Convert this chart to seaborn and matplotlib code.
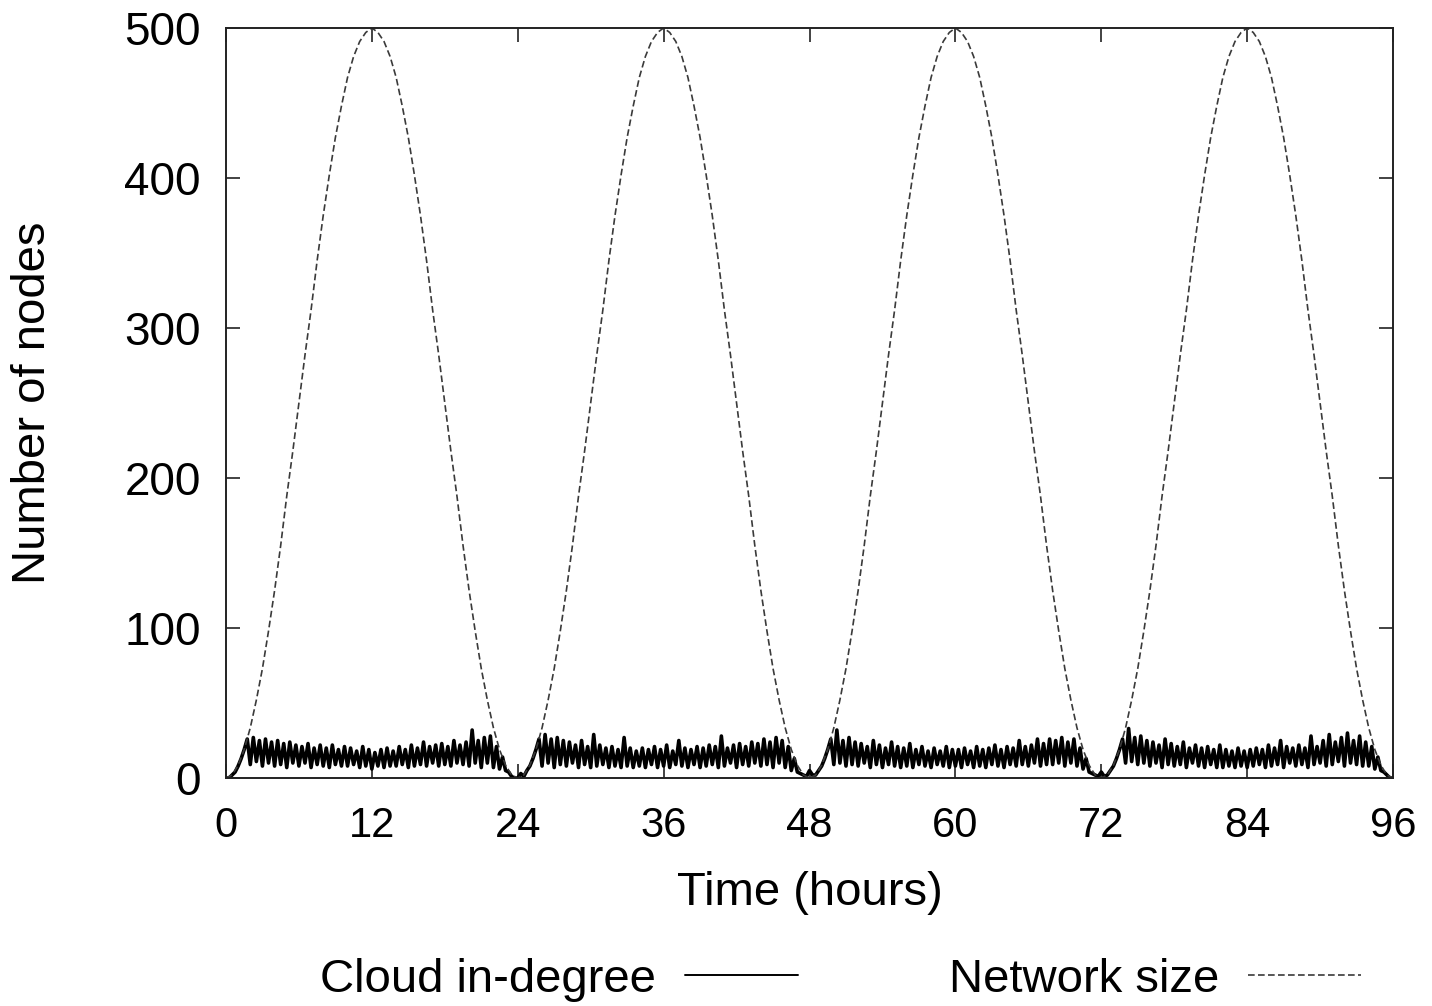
import numpy as np
import matplotlib
matplotlib.use("Agg")
import matplotlib.pyplot as plt
from matplotlib import font_manager
import seaborn as sns

network_size = [
    0, 2, 8.5, 19, 33.5, 52, 73, 98, 125, 155, 188, 218, 250, 282, 312, 345, 375, 402, 427, 448, 467, 481, 491, 497,
    500, 497, 491, 481, 467, 448, 427, 402, 375, 345, 312, 282, 250, 218, 188, 155, 125, 98, 73, 52, 33.5, 19, 8.5, 2,
    0, 2, 8.5, 19, 33.5, 52, 73, 98, 125, 155, 188, 218, 250, 282, 312, 345, 375, 402, 427, 448, 467, 481, 491, 497,
    500, 497, 491, 481, 467, 448, 427, 402, 375, 345, 312, 282, 250, 218, 188, 155, 125, 98, 73, 52, 33.5, 19, 8.5, 2,
    0, 2, 8.5, 19, 33.5, 52, 73, 98, 125, 155, 188, 218, 250, 282, 312, 345, 375, 402, 427, 448, 467, 481, 491, 497,
    500, 497, 491, 481, 467, 448, 427, 402, 375, 345, 312, 282, 250, 218, 188, 155, 125, 98, 73, 52, 33.5, 19, 8.5, 2,
    0, 2, 8.5, 19, 33.5, 52, 73, 98, 125, 155, 188, 218, 250, 282, 312, 345, 375, 402, 427, 448, 467, 481, 491, 497,
    500, 497, 491, 481, 467, 448, 427, 402, 375, 345, 312, 282, 250, 218, 188, 155, 125, 98, 73, 52, 33.5, 19, 8.5, 2,
    0,
]

cloud_indegree = [
    # day 1
    0, 0, 2, 4, 8, 13, 19, 26,
    9, 27, 11, 25, 8, 26, 10, 24,
    8, 25, 9, 23, 7, 24, 10, 22,
    8, 21, 10, 23, 7, 20, 9, 22,
    8, 20, 7, 22, 9, 19, 8, 21,
    8, 20, 9, 18, 7, 21, 8, 19,
    6, 17, 8, 19, 7, 20, 8, 18,
    8, 21, 9, 19, 7, 22, 8, 20,
    9, 24, 8, 21, 10, 22, 8, 23,
    9, 21, 8, 25, 10, 22, 9, 24,
    8, 32, 10, 25, 7, 27, 10, 28,
    7, 21, 6, 14, 5, 4, 1, 0,
    # day 2
    0, 3, 1, 5, 8, 13, 19, 26,
    8, 29, 10, 26, 7, 27, 9, 25,
    8, 24, 10, 22, 7, 25, 9, 21,
    7, 29, 8, 22, 9, 20, 7, 21,
    8, 19, 7, 27, 8, 20, 7, 18,
    8, 20, 7, 19, 9, 21, 7, 19,
    8, 22, 7, 18, 9, 25, 8, 20,
    7, 19, 9, 21, 7, 20, 8, 22,
    9, 21, 7, 28, 8, 20, 10, 22,
    7, 23, 9, 21, 8, 24, 10, 23,
    8, 26, 9, 24, 7, 27, 10, 25,
    7, 21, 5, 13, 4, 3, 2, 1,
    # day 3
    5, 2, 2, 5, 8, 13, 19, 26,
    9, 32, 10, 25, 8, 27, 9, 24,
    8, 23, 10, 21, 7, 25, 9, 22,
    7, 20, 9, 24, 8, 21, 7, 20,
    8, 23, 7, 19, 9, 21, 8, 18,
    7, 20, 9, 18, 8, 21, 7, 19,
    8, 19, 7, 20, 9, 18, 7, 21,
    8, 19, 7, 20, 9, 22, 8, 19,
    7, 21, 9, 20, 8, 25, 9, 21,
    8, 22, 10, 26, 8, 23, 9, 26,
    9, 25, 10, 27, 8, 24, 10, 26,
    8, 20, 6, 13, 4, 3, 2, 1,
    # day 4
    4, 1, 2, 5, 8, 13, 19, 26,
    10, 33, 11, 27, 9, 28, 10, 25,
    8, 24, 10, 22, 7, 26, 9, 23,
    8, 21, 9, 24, 7, 20, 10, 22,
    8, 20, 7, 21, 9, 19, 7, 22,
    7, 19, 8, 18, 7, 20, 8, 18,
    7, 19, 8, 20, 9, 19, 7, 22,
    8, 20, 9, 25, 7, 21, 10, 20,
    8, 22, 9, 20, 7, 28, 9, 21,
    10, 25, 8, 29, 9, 24, 11, 27,
    8, 30, 10, 25, 9, 28, 8, 24,
    8, 21, 6, 14, 5, 4, 2, 0,
    0,
]

x_ticks = [0, 12, 24, 36, 48, 60, 72, 84, 96]
y_ticks = [0, 100, 200, 300, 400, 500]

net_hours = np.arange(0, 96.5, 0.5)
cloud_hours = np.arange(0, 96.25, 0.25)


def _has_font(name):
    try:
        font_manager.findfont(name, fallback_to_default=False)
        return True
    except ValueError:
        return False


sns.set_theme(style="white")
plt.rcParams['font.family'] = ['Liberation Sans', 'DejaVu Sans']
plt.rcParams['text.color'] = 'black'
plt.rcParams['axes.labelcolor'] = 'black'
plt.rcParams['xtick.color'] = 'black'
plt.rcParams['ytick.color'] = 'black'

if _has_font('Liberation Sans Narrow'):
    narrow = 'Liberation Sans Narrow'
    label_size, xtick_size = 40, 31
else:
    narrow = 'Liberation Sans'
    label_size, xtick_size = 34, 30

fig = plt.figure(figsize=(14.32, 10.06), dpi=100)
ax = fig.add_axes([0.1578, 0.2266, 0.815, 0.7456])

sns.lineplot(x=cloud_hours, y=cloud_indegree, ax=ax, color='black', linewidth=2.6,
             estimator=None, label='Cloud in-degree', legend=False)
sns.lineplot(x=net_hours, y=network_size, ax=ax, color='#3a3a3a', linewidth=1.2,
             linestyle=(0, (4, 2)), estimator=None, label='Network size', legend=False)

ax.set_xlim(0, 96)
ax.set_ylim(0, 500)
ax.set_xticks(x_ticks)
ax.set_yticks(y_ticks)
ax.set_xticklabels([str(t) for t in x_ticks], fontsize=xtick_size, family=narrow)
ax.set_yticklabels([str(t) for t in y_ticks], fontsize=33, family='Liberation Sans')
ax.tick_params(direction='in', length=10, width=1.2, color='#222222',
               top=True, right=True, bottom=True, left=True)
ax.tick_params(axis='x', pad=20)
ax.tick_params(axis='y', pad=18)
for s in ax.spines.values():
    s.set_color('#222222')
    s.set_linewidth(1.4)

ax.set_xlabel('Time (hours)', fontsize=label_size, family=narrow)
ax.set_ylabel('Number of nodes', fontsize=label_size, family=narrow)
ax.xaxis.set_label_coords(0.5, -0.153)
ax.yaxis.set_label_coords(-0.1654, 0.501)
ax.xaxis.label.set_va('center')
ax.yaxis.label.set_va('center')

leg_handles = ax.get_lines()[:2]
leg = fig.legend(leg_handles, ['Cloud in-degree', 'Network size'], loc='center',
                 bbox_to_anchor=(0.587, 0.026), ncol=2, frameon=False, markerfirst=False,
                 handlelength=2.4, handletextpad=0.6, columnspacing=3.2,
                 prop={'family': narrow, 'size': label_size})
leg.get_lines()[0].set_linewidth(1.4)

fig.savefig('out.png', dpi=100)
